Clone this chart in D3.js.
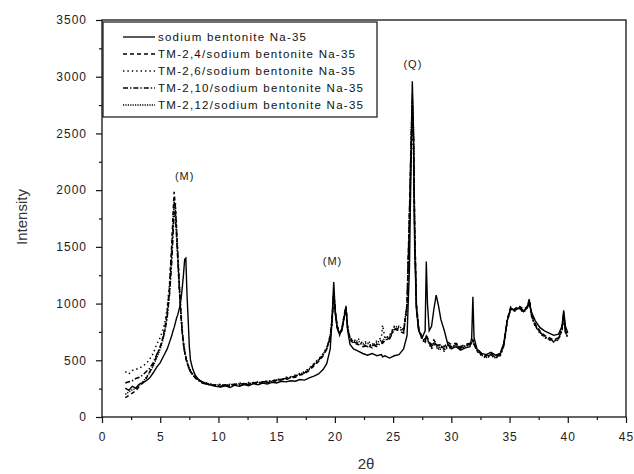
<!DOCTYPE html>
<html>
<head>
<meta charset="utf-8">
<script src="https://cdn.jsdelivr.net/npm/d3@7"></script>
<style>
  body { margin: 0; background: #fff; }
  svg { display: block; }
</style>
</head>
<body>
<svg class="xrdSVG" width="634" height="474"></svg>
<script>
// 2-theta positions shared by every pattern
const twoTheta = [
  2.0, 2.3, 2.6, 2.9, 3.2, 3.5, 3.8, 4.1, 4.4, 4.7,
  5.0, 5.2, 5.4, 5.6, 5.8, 6.0, 6.1, 6.2, 6.3, 6.4,
  6.5, 6.6, 6.7, 6.8, 6.9, 7.0, 7.1, 7.2, 7.3, 7.4,
  7.5, 7.6, 7.8, 8.0, 8.3, 8.6, 9.0, 9.4, 9.8, 10.2,
  10.6, 11.0, 11.4, 11.8, 12.2, 12.6, 13.0, 13.4, 13.8, 14.2,
  14.6, 15.0, 15.4, 15.8, 16.2, 16.6, 17.0, 17.4, 17.8, 18.2,
  18.6, 19.0, 19.3, 19.6, 19.75, 19.9, 20.05, 20.2, 20.4, 20.6,
  20.8, 20.95, 21.1, 21.3, 21.6, 22.0, 22.4, 22.8, 23.2, 23.6,
  24.0, 24.1, 24.3, 24.7, 25.1, 25.5, 25.9, 26.2, 26.4, 26.55,
  26.65, 26.75, 26.85, 27.0, 27.2, 27.5, 27.75, 27.85, 27.95, 28.1,
  28.3, 28.5, 28.7, 28.9, 29.1, 29.4, 29.7, 30.0, 30.4, 30.8,
  31.2, 31.6, 31.75, 31.85, 31.95, 32.2, 32.6, 33.0, 33.4, 33.8,
  34.2, 34.5, 34.8, 35.1, 35.4, 35.8, 36.2, 36.5, 36.7, 36.9,
  37.2, 37.6, 38.0, 38.4, 38.8, 39.2, 39.5, 39.65, 39.8, 40.0
];

// intensities
const naBent = [
  255, 235, 270, 255, 290, 300, 320, 345, 390, 440,
  480, 520, 560, 600, 660, 720, 760, 790, 830, 870,
  900, 940, 980, 1050, 1150, 1260, 1390, 1400, 1080, 860,
  620, 500, 420, 370, 330, 310, 295, 280, 270, 265,
  275, 260, 280, 270, 285, 275, 295, 285, 300, 290,
  305, 300, 315, 310, 320, 315, 330, 325, 345, 360,
  380, 420, 470, 600, 850, 1190, 900, 780, 730, 760,
  880, 960, 760, 640, 600, 580, 560, 545, 560, 540,
  550, 530, 540, 520, 540, 550, 600, 720, 1300, 2300,
  2960, 2500, 1500, 950, 760, 700, 760, 1370, 1000, 760,
  800, 950, 1075, 980, 860, 760, 640, 600, 620, 590,
  610, 620, 700, 1060, 700, 600, 560, 550, 570, 545,
  560, 650, 850, 960, 940, 960, 930, 960, 1000, 920,
  850, 790, 760, 740, 720, 730, 800, 940, 800, 740
];

const tm24 = [
  170, 190, 210, 230, 270, 300, 340, 400, 460, 540,
  620, 690, 790, 930, 1150, 1550, 1800, 1985, 1850, 1650,
  1450, 1250, 1050, 880, 740, 640, 570, 520, 480, 450,
  420, 400, 370, 350, 325, 305, 290, 280, 275, 270,
  280, 270, 285, 275, 290, 285, 300, 290, 310, 300,
  320, 315, 330, 330, 345, 350, 370, 380, 410, 450,
  490, 540, 600, 720, 860, 1080, 920, 800, 740, 780,
  900, 980, 780, 680, 650, 640, 620, 630, 610, 640,
  650, 660, 670, 700, 780, 760, 740, 1000, 1800, 2400,
  2700, 2450, 1700, 1000, 780, 700, 680, 720, 700, 660,
  640, 680, 650, 630, 640, 620, 660, 640, 650, 620,
  640, 650, 660, 680, 650, 600, 560, 540, 560, 530,
  560, 640, 860, 970, 950, 980, 950, 970, 1040, 900,
  820, 760, 720, 700, 680, 700, 780, 900, 760, 720
];

const tm26 = [
  400, 380, 410, 420, 430, 450, 470, 510, 560, 640,
  700, 760, 830, 960, 1180, 1500, 1700, 1880, 1900, 1700,
  1480, 1260, 1060, 900, 760, 660, 590, 540, 490, 460,
  430, 410, 380, 355, 330, 310, 300, 290, 280, 290,
  275, 290, 280, 300, 290, 305, 300, 310, 305, 320,
  315, 335, 330, 350, 355, 370, 385, 400, 430, 470,
  510, 560, 610, 700, 820, 1050, 900, 790, 720, 770,
  880, 950, 790, 700, 670, 690, 650, 670, 640, 670,
  700, 810, 690, 720, 800, 790, 760, 950, 1700, 2300,
  2560, 2350, 1600, 960, 760, 680, 650, 700, 680, 640,
  600, 640, 620, 590, 600, 580, 620, 600, 640, 600,
  620, 640, 650, 660, 640, 580, 540, 520, 540, 520,
  540, 620, 840, 950, 930, 960, 920, 960, 1020, 880,
  800, 740, 700, 680, 660, 680, 760, 880, 740, 700
];

const tm210 = [
  300, 310, 320, 340, 350, 370, 400, 430, 480, 550,
  620, 680, 760, 880, 1080, 1380, 1600, 1800, 1780, 1600,
  1400, 1200, 1010, 860, 730, 640, 570, 520, 480, 450,
  420, 400, 370, 345, 320, 300, 290, 280, 285, 275,
  285, 280, 290, 285, 295, 290, 305, 300, 310, 310,
  320, 325, 335, 340, 350, 360, 375, 390, 420, 460,
  500, 550, 600, 700, 840, 1100, 920, 800, 740, 770,
  890, 970, 780, 690, 660, 650, 640, 620, 640, 620,
  660, 650, 680, 690, 770, 780, 750, 980, 1750, 2450,
  2800, 2500, 1650, 980, 770, 690, 670, 710, 690, 650,
  620, 660, 640, 610, 630, 600, 640, 620, 630, 610,
  630, 640, 650, 670, 640, 590, 550, 530, 550, 525,
  550, 630, 850, 960, 940, 970, 940, 960, 1030, 890,
  810, 750, 710, 690, 670, 690, 770, 920, 750, 710
];

const tm212 = [
  200, 220, 240, 250, 280, 310, 350, 390, 450, 520,
  600, 670, 760, 890, 1100, 1450, 1700, 1900, 1820, 1620,
  1420, 1220, 1030, 870, 740, 650, 580, 530, 490, 455,
  425, 405, 375, 350, 325, 310, 295, 285, 280, 285,
  278, 288, 282, 295, 288, 300, 295, 308, 303, 315,
  312, 328, 325, 342, 348, 362, 378, 395, 425, 465,
  505, 555, 605, 710, 850, 1070, 910, 795, 730, 775,
  885, 960, 785, 695, 665, 670, 645, 650, 630, 655,
  680, 670, 700, 710, 790, 800, 770, 1000, 1780, 2500,
  2850, 2550, 1680, 990, 770, 690, 660, 700, 690, 650,
  610, 650, 630, 600, 620, 590, 630, 610, 645, 605,
  625, 645, 655, 665, 645, 585, 545, 525, 545, 520,
  545, 625, 845, 955, 935, 965, 930, 965, 1025, 885,
  805, 745, 705, 685, 665, 685, 765, 900, 745, 705
];

const seriesNames = [
  'sodium bentonite Na-35',
  'TM-2,4/sodium bentonite Na-35',
  'TM-2,6/sodium bentonite Na-35',
  'TM-2,10/sodium bentonite Na-35',
  'TM-2,12/sodium bentonite Na-35'
];
const seriesValues = [naBent, tm24, tm26, tm210, tm212];

// axis ticks
const xMajor = [0, 5, 10, 15, 20, 25, 30, 35, 40, 45];
const xMinor = [2.5, 7.5, 12.5, 17.5, 22.5, 27.5, 32.5, 37.5, 42.5];
const yMajor = [0, 500, 1000, 1500, 2000, 2500, 3000, 3500];
const yMinor = [250, 750, 1250, 1750, 2250, 2750, 3250];

// peak labels (text, 2theta, intensity)
const peakText = ['(M)', '(M)', '(Q)'];
const peakPos = [[7.1, 2090], [19.8, 1340], [26.7, 3080]];

// line styles per series
const dashes = ['none', '4,3', '1.4,3', '5,2,1.4,2', '1.2,1.2'];
const fontFam = "'Liberation Sans', Arial, sans-serif";

const svg = d3.select('svg.xrdSVG');

const x = d3.scaleLinear().domain([0, 45]).range([102, 626]);
const y = d3.scaleLinear().domain([0, 3500]).range([417, 20]);

// minor ticks first, majors on top
svg.append('g')
  .attr('transform', `translate(0, ${y(0)})`)
  .call(d3.axisBottom(x).tickValues(xMinor).tickSize(3).tickSizeOuter(0).tickFormat(''));
svg.append('g')
  .attr('transform', `translate(0, ${y(0)})`)
  .call(d3.axisBottom(x).tickValues(xMajor).tickSize(6).tickSizeOuter(0).tickPadding(9).tickFormat(d3.format('d')));
svg.append('g')
  .attr('transform', `translate(${x(0)}, 0)`)
  .call(d3.axisLeft(y).tickValues(yMinor).tickSize(3).tickSizeOuter(0).tickFormat(''));
svg.append('g')
  .attr('transform', `translate(${x(0)}, 0)`)
  .call(d3.axisLeft(y).tickValues(yMajor).tickSize(6).tickSizeOuter(0).tickPadding(9).tickFormat(d3.format('d')));

svg.selectAll('.domain').remove();
svg.selectAll('.tick line').attr('stroke', '#111').attr('stroke-width', 1.2);
svg.selectAll('.tick text')
  .style('font-family', fontFam)
  .style('font-size', '12px')
  .style('letter-spacing', '1px')
  .attr('fill', '#222');

// plot frame
svg.append('rect')
  .attr('x', x(0))
  .attr('y', y(3500))
  .attr('width', x(45) - x(0))
  .attr('height', y(0) - y(3500))
  .attr('fill', 'none')
  .attr('stroke', '#111')
  .attr('stroke-width', 1.3);

// the diffraction patterns
const lineGen = d3.line()
  .x((d, i) => x(twoTheta[i]))
  .y(d => y(d));

svg.append('g').attr('class', 'patterns')
  .selectAll('path')
  .data(seriesValues)
  .enter()
  .append('path')
  .attr('d', d => lineGen(d))
  .attr('fill', 'none')
  .attr('stroke', '#000')
  .attr('stroke-width', (d, i) => i == 0 ? 1.4 : 1.5)
  .attr('stroke-dasharray', (d, i) => dashes[i]);

// peak labels
svg.append('g').attr('class', 'peakLabels')
  .selectAll('text')
  .data(peakText)
  .enter()
  .append('text')
  .attr('x', (d, i) => x(peakPos[i][0]))
  .attr('y', (d, i) => y(peakPos[i][1]))
  .attr('text-anchor', 'middle')
  .style('font-family', fontFam)
  .style('font-size', '11px')
  .style('letter-spacing', '1px')
  .attr('fill', '#222')
  .text(d => d);

// legend box
const legendGrp = svg.append('g').attr('class', 'legendGrp');
legendGrp.append('rect')
  .attr('x', 103)
  .attr('y', 22)
  .attr('width', 274)
  .attr('height', 95)
  .attr('fill', '#fff')
  .attr('stroke', '#111')
  .attr('stroke-width', 1.2);

const legWidths = [148, 197, 197, 205, 205];
const legRows = legendGrp.selectAll('g.legRow')
  .data(seriesNames)
  .enter()
  .append('g')
  .attr('class', 'legRow')
  .attr('transform', (d, i) => `translate(0, ${37 + i * 17})`);

legRows.append('line')
  .attr('x1', 123)
  .attr('x2', 155)
  .attr('stroke', '#000')
  .attr('stroke-width', 1.3)
  .attr('stroke-dasharray', (d, i) => dashes[i]);

legRows.append('text')
  .attr('x', 158)
  .attr('y', 4)
  .attr('textLength', (d, i) => legWidths[i])
  .attr('lengthAdjust', 'spacing')
  .style('font-family', fontFam)
  .style('font-size', '11.5px')
  .attr('fill', '#111')
  .text(d => d);

// axis titles
svg.append('text')
  .attr('transform', 'translate(27, 217) rotate(-90)')
  .attr('text-anchor', 'middle')
  .style('font-family', fontFam)
  .style('font-size', '15px')
  .attr('fill', '#333')
  .text('Intensity');

svg.append('text')
  .attr('x', 366)
  .attr('y', 469)
  .attr('text-anchor', 'middle')
  .style('font-family', fontFam)
  .style('font-size', '15px')
  .attr('fill', '#333')
  .text('2θ');
</script>
</body>
</html>
